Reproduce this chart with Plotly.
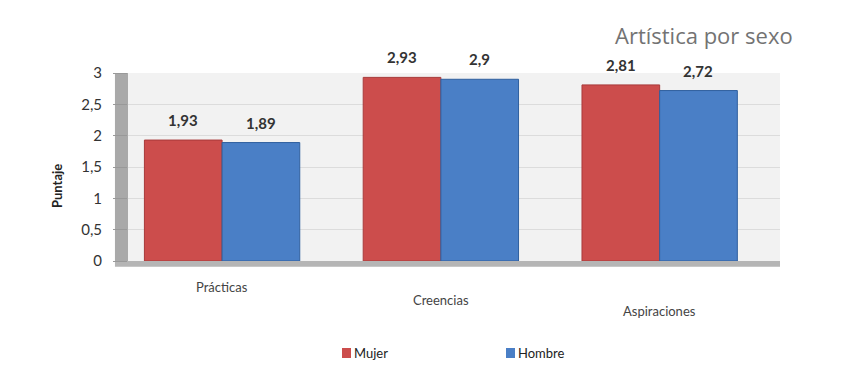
import plotly.graph_objects as go

categories = ["Prácticas", "Creencias", "Aspiraciones"]
series_names = ["Mujer", "Hombre"]
mujer = [1.93, 2.93, 2.81]
hombre = [1.89, 2.90, 2.72]
y_ticks = [0, 0.5, 1, 1.5, 2, 2.5, 3]
y_tick_labels = ["0", "0,5", "1", "1,5", "2", "2,5", "3"]

RED = "#cc4d4c"
BLUE = "#4a7fc6"
FONT = "Lato"

W, H = 854, 390
PAGE = 8  # default body margin of the html page
ml, mr, mt, mb = 120, 82, 65, 137
PW, PH = W - ml - mr, H - mt - mb


def px_x(xpx):
    return (xpx - PAGE - ml) / PW


def px_y(ypx):
    return (H - mb - (ypx - PAGE)) / PH


fig = go.Figure()
fig.add_trace(go.Bar(name=series_names[0], x=list(range(3)), y=mujer,
                     marker=dict(color=RED, line=dict(color="#a83a3a", width=1))))
fig.add_trace(go.Bar(name=series_names[1], x=list(range(3)), y=hombre,
                     marker=dict(color=BLUE, line=dict(color="#2f5f9e", width=1))))


def fmt(v):
    s = f"{v:.2f}".rstrip("0").rstrip(".")
    return s.replace(".", ",")


annotations = []
off = 0.177
for i in range(3):
    for vals, dx in ((mujer, -off), (hombre, off)):
        annotations.append(dict(x=i + dx, y=vals[i], xref="x", yref="y", text="<b>" + fmt(vals[i]) + "</b>",
                                showarrow=False, yshift=20, font=dict(family=FONT, size=15, color="#333333")))
label_shift = [-36, -49, -60]
for i, c in enumerate(categories):
    annotations.append(dict(x=i, y=0, xref="x", yref="paper", text=c, showarrow=False,
                            yshift=label_shift[i], font=dict(family=FONT, size=13, color="#444444")))
annotations.append(dict(x=px_x(795), y=px_y(35), xref="paper", yref="paper", xanchor="right",
                        yanchor="middle", text="Artística por sexo", showarrow=False,
                        font=dict(family="Open Sans", size=22, color="#737373")))
annotations.append(dict(x=px_x(57), y=px_y(186), xref="paper", yref="paper", text="<b>Puntaje</b>",
                        xanchor="center", yanchor="middle",
                        textangle=-90, showarrow=False, font=dict(family=FONT, size=13, color="#222222")))

# manual legend
legend_x = [342, 506]
legend_colors = [RED, BLUE]
shapes = [
    dict(type="rect", xref="paper", yref="paper", x0=-0.02, x1=0, y0=0, y1=1,
         fillcolor="#a9a9a9", line=dict(width=0), layer="below"),
    dict(type="rect", xref="paper", yref="paper", x0=-0.02, x1=1, y0=-0.03, y1=0,
         fillcolor="#b5b5b5", line=dict(width=0), layer="below"),
]
for name, lx, col in zip(series_names, legend_x, legend_colors):
    shapes.append(dict(type="rect", xref="paper", yref="paper", x0=px_x(lx), x1=px_x(lx + 9),
                       y0=px_y(358), y1=px_y(348), fillcolor=col, line=dict(width=0)))
    annotations.append(dict(x=px_x(lx + 10), y=px_y(353), xref="paper", yref="paper", text=name,
                            xanchor="left", yanchor="middle", showarrow=False,
                            font=dict(family=FONT, size=13, color="#222222")))

fig.update_layout(
    width=W, height=H,
    margin=dict(l=ml, r=mr, t=mt, b=mb),
    paper_bgcolor="white",
    plot_bgcolor="#f2f2f2",
    barmode="group",
    bargap=0.29,
    bargroupgap=0,
    showlegend=False,
    xaxis=dict(range=[-0.43, 2.55], showticklabels=False, showgrid=False, zeroline=False,
               tickvals=list(range(3)), showline=False),
    yaxis=dict(range=[0, 3], tickvals=y_ticks, ticktext=y_tick_labels, showgrid=True,
               gridcolor="#dcdcdc", zeroline=False, ticks="outside", ticklen=14, tickcolor="#999999",
               tickfont=dict(family=FONT, size=15, color="#333333"), ticklabelstandoff=8),
    annotations=annotations,
    shapes=shapes,
    font=dict(family=FONT),
)

fig.write_html("out.html")
